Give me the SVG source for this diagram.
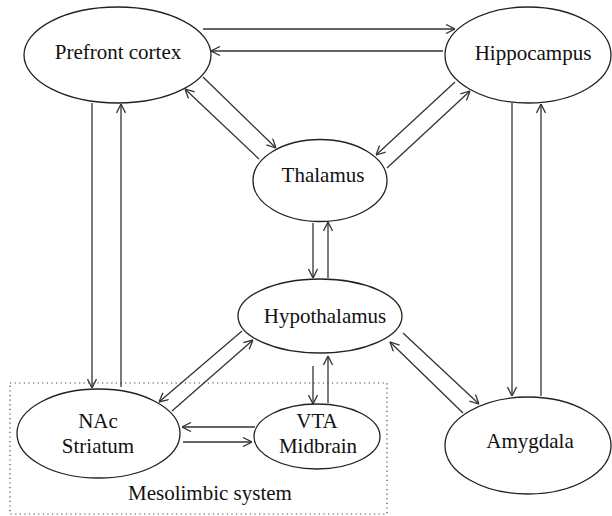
<svg xmlns="http://www.w3.org/2000/svg" width="612" height="516" viewBox="0 0 612 516">
<style>
.n ellipse{fill:#fff;stroke:#222;stroke-width:1.3}
text{font-family:'Liberation Serif','DejaVu Serif',serif;font-size:21px;fill:#111;text-anchor:middle}
#edges line{stroke:#333;stroke-width:1.3;marker-end:url(#ah)}
</style>
<defs>
<marker id="ah" viewBox="0 0 10 10" refX="10" refY="5" markerWidth="10" markerHeight="10" markerUnits="userSpaceOnUse" orient="auto">
<path d="M1,0.5 L10,5 L1,9.5" fill="none" stroke="#333" stroke-width="1.3"/>
</marker>
</defs>
<rect id="mesolimbic" x="10" y="383" width="377" height="131" fill="none" stroke="#444" stroke-width="1.2" stroke-dasharray="1.2 3.4"/>
<text x="210" y="500">Mesolimbic system</text>
<g id="edges">
<line x1="203" y1="29" x2="455" y2="29"/>
<line x1="443" y1="51" x2="211" y2="51"/>
<line x1="203" y1="77" x2="276" y2="148"/>
<line x1="259" y1="159" x2="185" y2="89"/>
<line x1="455" y1="82" x2="376" y2="155"/>
<line x1="387" y1="168" x2="470" y2="91"/>
<line x1="92" y1="103" x2="92" y2="388"/>
<line x1="121" y1="387" x2="121" y2="104"/>
<line x1="512" y1="103" x2="512" y2="396"/>
<line x1="541" y1="396" x2="541" y2="104"/>
<line x1="313" y1="223" x2="313" y2="278"/>
<line x1="328" y1="278" x2="328" y2="222"/>
<line x1="242" y1="331" x2="159" y2="402"/>
<line x1="172" y1="411" x2="253" y2="340"/>
<line x1="313" y1="366" x2="313" y2="404"/>
<line x1="328" y1="403" x2="328" y2="356"/>
<line x1="255" y1="427" x2="182" y2="427"/>
<line x1="183" y1="442" x2="252" y2="442"/>
<line x1="403" y1="333" x2="479" y2="404"/>
<line x1="463" y1="413" x2="390" y2="342"/>
</g>
<g id="prefront" class="n"><ellipse cx="117.5" cy="55" rx="93.5" ry="48"/><text x="118" y="59">Prefront cortex</text></g>
<g id="hippocampus" class="n"><ellipse cx="528" cy="55" rx="83" ry="48"/><text x="533" y="60">Hippocampus</text></g>
<g id="thalamus" class="n"><ellipse cx="320" cy="180.5" rx="67" ry="41"/><text x="323" y="182">Thalamus</text></g>
<g id="hypothalamus" class="n"><ellipse cx="320" cy="316" rx="82" ry="37"/><text x="325" y="323">Hypothalamus</text></g>
<g id="nac" class="n"><ellipse cx="98.5" cy="433.5" rx="81.5" ry="44.5"/><text x="98" y="428">NAc</text><text x="98" y="453">Striatum</text></g>
<g id="vta" class="n"><ellipse cx="317" cy="436.5" rx="63" ry="32.5"/><text x="317" y="428">VTA</text><text x="318" y="453">Midbrain</text></g>
<g id="amygdala" class="n"><ellipse cx="528" cy="445.5" rx="83" ry="48.5"/><text x="530" y="448">Amygdala</text></g>
</svg>
